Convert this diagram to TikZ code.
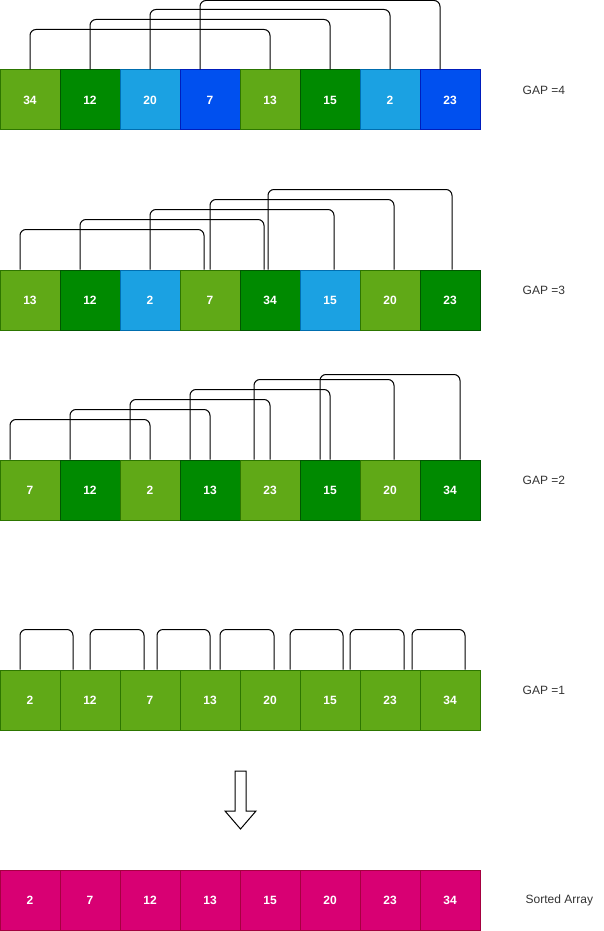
\documentclass[tikz,border=0pt]{standalone}
\usepackage{fontspec}
\setmainfont{Liberation Sans}
\usetikzlibrary{positioning}
\definecolor{lgreen}{HTML}{60A917}
\definecolor{lgreenline}{HTML}{2D7600}
\definecolor{dgreen}{HTML}{008A00}
\definecolor{dgreenline}{HTML}{005700}
\definecolor{lblue}{HTML}{1BA1E2}
\definecolor{lblueline}{HTML}{006EAF}
\definecolor{dblue}{HTML}{0050EF}
\definecolor{dblueline}{HTML}{001DBC}
\definecolor{pink}{HTML}{D80073}
\definecolor{pinkline}{HTML}{A50040}
\definecolor{labelgray}{HTML}{333333}

\begin{document}
\begin{tikzpicture}[x=1pt, y=-1pt,
  cell/.style={fill=#1, draw=#1line, line width=1pt, minimum width=60pt, minimum height=60pt,
    inner sep=0pt, text=white, font=\bfseries\fontsize{12}{14}\selectfont},
  link/.style={draw=black, line width=1pt, rounded corners=6pt},
  gaplabel/.style={inner sep=0pt, text=labelgray, font=\fontsize{12}{14}\selectfont}]
  \useasboundingbox (0,0) rectangle (604,931);

  % Gap 4
  \foreach \val/\col [count=\i from 0] in {34/lgreen,12/dgreen,20/lblue,7/dblue,13/lgreen,15/dgreen,2/lblue,23/dblue}
    \node[cell=\col] (r1n\i) at (30+60*\i,100) {\val};
  \foreach \s/\sx/\e/\ex/\h in {0/0/4/0/40, 1/0/5/0/50, 2/0/6/0/60, 3/-10/7/-10/69}
    \draw[link] ([xshift=\sx pt]r1n\s.north) -- ++(0,-\h) -| ([xshift=\ex pt]r1n\e.north);
  \node[gaplabel, right=42pt of r1n7, yshift=10pt] (gap4) {GAP =4};

  % Gap 3
  \foreach \val/\col [count=\i from 0] in {13/lgreen,12/dgreen,2/lblue,7/lgreen,34/dgreen,15/lblue,20/lgreen,23/dgreen}
    \node[cell=\col] (r2n\i) at (30+60*\i,300) {\val};
  \foreach \s/\sx/\e/\ex/\h in {0/-10/3/-6/40, 1/-10/4/-6/50, 2/0/5/4/60, 3/0/6/4/70, 4/-2/7/2/80}
    \draw[link] ([xshift=\sx pt]r2n\s.north) -- ++(0,-\h) -| ([xshift=\ex pt]r2n\e.north);
  \node[gaplabel, right=42pt of r2n7, yshift=10pt] (gap3) {GAP =3};

  % Gap 2
  \foreach \val/\col [count=\i from 0] in {7/lgreen,12/dgreen,2/lgreen,13/dgreen,23/lgreen,15/dgreen,20/lgreen,34/dgreen}
    \node[cell=\col] (r3n\i) at (30+60*\i,490) {\val};
  \foreach \s/\sx/\e/\ex/\h in {0/-20/2/0/40, 1/-20/3/0/50, 2/-20/4/0/60, 3/-20/5/0/70, 4/-16/6/4/80, 5/-10/7/10/85}
    \draw[link] ([xshift=\sx pt]r3n\s.north) -- ++(0,-\h) -| ([xshift=\ex pt]r3n\e.north);
  \node[gaplabel, right=42pt of r3n7, yshift=10pt] (gap2) {GAP =2};

  % Gap 1
  \foreach \val [count=\i from 0] in {2,12,7,13,20,15,23,34}
    \node[cell=lgreen] (r4n\i) at (30+60*\i,700) {\val};
  \foreach \s/\sx/\e/\ex in {0/-10/1/-17, 1/0/2/-6, 2/7/3/0, 3/10/4/4, 4/20/5/13, 5/20/6/14, 6/22/7/15}
    \draw[link] ([xshift=\sx pt]r4n\s.north) -- ++(0,-40) -| ([xshift=\ex pt]r4n\e.north);
  \node[gaplabel, right=42pt of r4n7, yshift=10pt] (gap1) {GAP =1};

  % Down arrow
  \draw[line width=1pt, fill=white] (235,771) -- (246,771) -- (246,811) -- (256,811) -- (240.5,829)
    -- (225,811) -- (235,811) -- cycle;

  % Sorted array
  \foreach \val [count=\i from 0] in {2,7,12,13,15,20,23,34}
    \node[cell=pink] (r5n\i) at (30+60*\i,900) {\val};
  \node[gaplabel, right=45pt of r5n7] (sorted) {Sorted Array};
\end{tikzpicture}
\end{document}
